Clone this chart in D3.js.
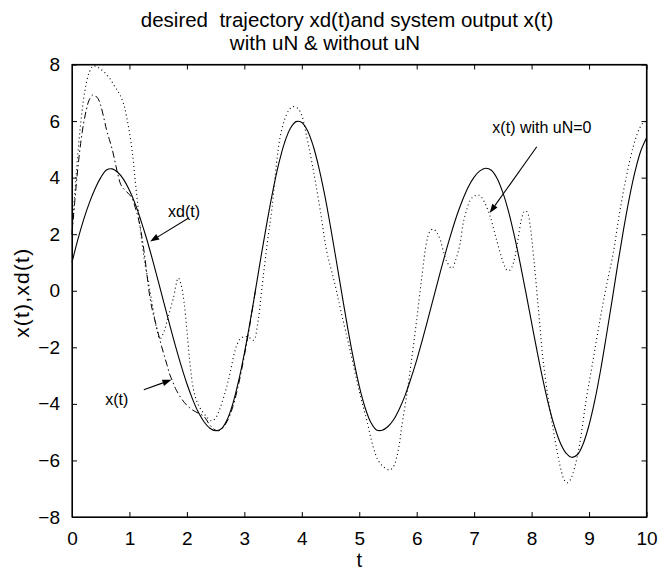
<!DOCTYPE html>
<html><head><meta charset="utf-8">
<script src="https://cdn.jsdelivr.net/npm/d3@7"></script>
<style>
html,body{margin:0;padding:0;background:#fff;}
svg{display:block;font-family:"Liberation Sans",Arial,Helvetica,sans-serif;}
</style></head>
<body>
<svg id="chart" width="660" height="572"></svg>
<script>
// ---- data ----
const titleLines = ["desired  trajectory xd(t)and system output x(t)", "with uN & without uN"];
const xLabel = "t";
const yLabel = "x(t),xd(t)";
const xTicks = [0,1,2,3,4,5,6,7,8,9,10];
const yTicks = [-8,-6,-4,-2,0,2,4,6,8];

// desired trajectory xd(t) (solid)
const xdT = [0,0.1,0.2,0.3,0.4,0.5,0.6,0.7,0.8,0.9,1.0,1.1,1.2,1.3,1.4,1.5,1.6,1.7,1.8,1.9,
  2.0,2.1,2.2,2.3,2.4,2.5,2.6,2.7,2.8,2.9,3.0,3.1,3.2,3.3,3.4,3.5,3.6,3.7,3.8,3.9,
  4.0,4.1,4.2,4.3,4.4,4.5,4.6,4.7,4.8,4.9,5.0,5.1,5.2,5.3,5.4,5.5,5.6,5.7,5.8,5.9,
  6.0,6.1,6.2,6.3,6.4,6.5,6.6,6.7,6.8,6.9,7.0,7.1,7.2,7.3,7.4,7.5,7.6,7.7,7.8,7.9,
  8.0,8.1,8.2,8.3,8.4,8.5,8.6,8.7,8.8,8.9,9.0,9.1,9.2,9.3,9.4,9.5,9.6,9.7,9.8,9.9,10.0];
const xdV = [1.0,1.8,2.5,3.1,3.6,4.0,4.27,4.31,4.18,3.93,3.55,3.07,2.48,1.83,1.11,0.35,-0.43,-1.20,-1.95,-2.65,
  -3.29,-3.84,-4.30,-4.64,-4.86,-4.95,-4.88,-4.56,-3.99,-3.19,-2.21,-1.10,0.10,1.32,2.49,3.57,4.50,5.24,5.74,5.98,
  5.95,5.66,5.11,4.33,3.37,2.26,1.07,-0.14,-1.33,-2.42,-3.37,-4.12,-4.65,-4.92,-4.93,-4.80,-4.55,-4.17,-3.69,-3.10,
  -2.45,-1.73,-0.97,-0.19,0.58,1.33,2.03,2.67,3.22,3.68,4.02,4.24,4.33,4.26,3.97,3.47,2.79,1.94,0.98,-0.06,
  -1.13,-2.19,-3.18,-4.07,-4.81,-5.38,-5.74,-5.89,-5.79,-5.40,-4.75,-3.88,-2.82,-1.61,-0.35,0.94,2.16,3.27,4.21,4.94,5.40];

// system output x(t) with uN (dash-dot), merges with xd after t~3.2
const xT = [0,0.05,0.1,0.15,0.2,0.25,0.3,0.37,0.45,0.5,0.55,0.6,0.65,0.7,0.75,0.8,0.85,0.9,0.95,1.0,
  1.05,1.1,1.15,1.2,1.25,1.3,1.35,1.4,1.45,1.5,1.55,1.6,1.65,1.7,1.75,1.8,1.9,2.0,2.1,2.2,
  2.3,2.4,2.5,2.55,2.6,2.7,2.8,2.9,3.0,3.1,3.2];
const xV = [2.0,3.2,4.3,5.2,5.9,6.4,6.75,6.93,6.8,6.55,6.15,5.7,5.35,5.0,4.55,4.1,3.75,3.6,3.5,3.4,
  3.25,2.95,2.6,2.1,1.45,0.65,-0.15,-0.7,-1.1,-1.5,-1.9,-2.25,-2.6,-2.95,-3.2,-3.45,-3.8,-4.05,-4.22,-4.33,
  -4.45,-4.75,-4.93,-4.95,-4.9,-4.62,-4.1,-3.3,-2.3,-1.15,0.1];

// x(t) with uN=0 (dotted)
const x0T = [0,0.05,0.1,0.15,0.2,0.25,0.3,0.37,0.45,0.55,0.66,0.75,0.83,0.9,0.95,1.0,1.05,1.1,1.15,1.2,
  1.27,1.33,1.4,1.47,1.53,1.6,1.67,1.76,1.85,1.9,1.95,2.0,2.05,2.11,2.17,2.23,2.34,2.43,2.5,2.55,
  2.66,2.75,2.84,2.92,3.0,3.08,3.16,3.24,3.3,3.4,3.48,3.56,3.62,3.7,3.78,3.85,3.93,4.0,4.08,4.2,
  4.32,4.43,4.58,4.69,4.84,5.01,5.13,5.24,5.33,5.42,5.53,5.6,5.65,5.7,5.74,5.83,5.91,6.0,6.09,6.17,
  6.23,6.29,6.35,6.41,6.47,6.52,6.61,6.68,6.75,6.81,6.87,6.93,6.99,7.07,7.13,7.19,7.28,7.39,7.51,7.56,
  7.61,7.66,7.71,7.77,7.82,7.87,7.9,7.94,7.97,8.04,8.12,8.2,8.32,8.44,8.52,8.57,8.62,8.67,8.72,8.78,
  8.84,8.95,9.07,9.19,9.3,9.42,9.53,9.65,9.77,9.88,9.95,10.0];
const x0V = [2.0,3.5,4.8,5.9,6.75,7.35,7.72,7.95,7.9,7.75,7.5,7.2,6.95,6.6,6.15,5.6,4.9,3.9,2.95,2.0,
  0.95,0.3,-0.5,-1.3,-1.7,-1.45,-0.95,-0.3,0.45,0.2,-0.4,-1.39,-2.5,-3.45,-3.9,-4.15,-4.45,-4.6,-4.5,-4.3,
  -3.63,-2.92,-2.1,-1.72,-1.62,-1.65,-1.75,-1.05,0.0,1.7,2.9,4.5,5.4,6.05,6.4,6.51,6.45,6.2,5.5,4.27,
  2.86,1.44,0.2,-0.8,-2.1,-3.63,-4.57,-5.5,-6.0,-6.22,-6.34,-6.2,-5.9,-5.4,-4.8,-3.63,-2.45,-1.03,0.5,1.7,
  2.1,2.18,2.05,1.8,1.35,1.05,0.79,1.1,1.62,2.4,2.86,3.2,3.33,3.39,3.3,3.09,2.62,1.8,0.97,0.75,
  0.71,0.85,1.2,1.9,2.5,2.8,2.83,2.7,2.38,1.09,-0.68,-2.45,-4.22,-5.63,-6.4,-6.7,-6.79,-6.7,-6.45,-6.0,
  -5.39,-3.86,-2.45,-1.03,0.15,1.32,2.74,4.04,5.1,5.75,5.95,6.0];

// annotations: label, text centre (t,value), arrow tail (t,value), arrow tip (t,value)
const notes = [
  {label:"xd(t)", at:[1.95,2.6], tail:[2.03,2.57], tip:[1.36,1.74]},
  {label:"x(t)", at:[0.78,-4.05], tail:[1.25,-3.5], tip:[1.73,-3.15]},
  {label:"x(t) with uN=0", at:[8.18,5.57], tail:[8.09,5.09], tip:[7.27,2.75]}
];

// ---- drawing ----
const svg = d3.select("#chart");
const L = 72, R = 646.5, T = 64.5, B = 517;
const x = d3.scaleLinear().domain([0,10]).range([L,R]);
const y = d3.scaleLinear().domain([-8,8]).range([B,T]);

svg.append("rect").attr("width",660).attr("height",572).attr("fill","#fff");

const zip = (ts, vs) => ts.map((t,i)=>[t, vs[i]]);
const line = d3.line().x(d=>x(d[0])).y(d=>y(d[1])).curve(d3.curveCatmullRom.alpha(0.5));

const g = svg.append("g");
g.append("path").datum(zip(x0T,x0V)).attr("d",line)
  .attr("fill","none").attr("stroke","#000").attr("stroke-width",1.1)
  .attr("stroke-dasharray","1,3");
g.append("path").datum(zip(xT,xV)).attr("d",line)
  .attr("fill","none").attr("stroke","#000").attr("stroke-width",1)
  .attr("stroke-dasharray","7,3,1.5,3");
g.append("path").datum(zip(xdT,xdV)).attr("d",line)
  .attr("fill","none").attr("stroke","#000").attr("stroke-width",1.1);

// axes (inward ticks on all sides)
const fs = 19;
const ax = svg.append("g").attr("transform",`translate(0,${B})`)
  .call(d3.axisBottom(x).tickValues(xTicks).tickSize(-5).tickSizeOuter(0).tickPadding(15).tickFormat(d3.format("d")));
const ay = svg.append("g").attr("transform",`translate(${L},0)`)
  .call(d3.axisLeft(y).tickValues(yTicks).tickSize(-5).tickSizeOuter(0).tickPadding(12).tickFormat(d3.format("d")));
const at = svg.append("g").attr("transform",`translate(0,${T})`)
  .call(d3.axisTop(x).tickValues(xTicks).tickSize(-5).tickSizeOuter(0).tickFormat(""));
const ar = svg.append("g").attr("transform",`translate(${R},0)`)
  .call(d3.axisRight(y).tickValues(yTicks).tickSize(-5).tickSizeOuter(0).tickFormat(""));
[ax,ay,at,ar].forEach(a=>{
  a.selectAll("text").attr("font-size",fs).attr("font-family","Liberation Sans, Arial, sans-serif").attr("fill","#000");
  a.selectAll("line").attr("stroke","#000");
  a.select(".domain").attr("stroke","#000");
});
svg.append("rect").attr("x",L).attr("y",T).attr("width",R-L).attr("height",B-T)
  .attr("fill","none").attr("stroke","#000").attr("stroke-width",1.2);

// labels
svg.append("text").attr("x",(L+R)/2).attr("y",567).attr("text-anchor","middle")
  .attr("font-size",20).text(xLabel);
svg.append("text").attr("transform",`translate(29,${(T+B)/2+2}) rotate(-90)`).attr("text-anchor","middle")
  .attr("font-size",21).attr("letter-spacing",1.2).text(yLabel);
const titleX = [347, 325], titleY = [27, 50];
svg.selectAll("text.title").data(titleLines).join("text").attr("class","title")
  .attr("x",(d,i)=>titleX[i]).attr("y",(d,i)=>titleY[i]).attr("text-anchor","middle")
  .attr("font-size",20.5).attr("xml:space","preserve").style("white-space","pre").text(d=>d);

// annotations
const ann = svg.append("g");
notes.forEach(n=>{
  ann.append("text").attr("x",x(n.at[0])).attr("y",y(n.at[1])).attr("text-anchor","middle")
    .attr("font-size",16).text(n.label);
  const x1=x(n.tail[0]), y1=y(n.tail[1]), x2=x(n.tip[0]), y2=y(n.tip[1]);
  const ang = Math.atan2(y2-y1,x2-x1), hl=9, hw=3.2;
  const bx = x2-hl*Math.cos(ang), by = y2-hl*Math.sin(ang);
  ann.append("line").attr("x1",x1).attr("y1",y1).attr("x2",bx).attr("y2",by).attr("stroke","#000").attr("stroke-width",1.1);
  ann.append("path").attr("d",`M${x2},${y2}L${bx+hw*Math.sin(ang)},${by-hw*Math.cos(ang)}L${bx-hw*Math.sin(ang)},${by+hw*Math.cos(ang)}Z`).attr("fill","#000");
});
</script>
</body></html>
